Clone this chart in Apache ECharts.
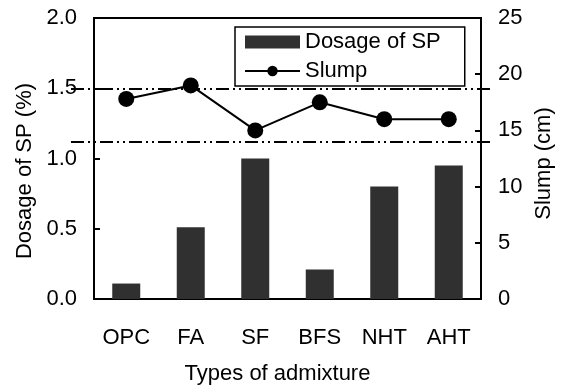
<!DOCTYPE html>
<html>
<head>
<meta charset="utf-8">
<script src="https://cdn.jsdelivr.net/npm/echarts@6/dist/echarts.min.js"></script>
<style>
  html, body { margin: 0; padding: 0; background: #fff; }
  #chart { width: 561px; height: 385px; }
</style>
</head>
<body>
<div id="chart"></div>
<script>
// Admixture types and measured values
var categories = ['OPC', 'FA', 'SF', 'BFS', 'NHT', 'AHT'];
var dosageSP = [0.11, 0.51, 1.0, 0.21, 0.8, 0.95];      // %
var slump = [17.8, 19.0, 15.0, 17.5, 16.0, 16.0];       // cm
var slumpLimits = [18.7, 14.0];                          // cm, target range
var leftTicks = { min: 0, max: 2.0, interval: 0.5 };
var rightTicks = { min: 0, max: 25, interval: 5 };

var FONT = 'Liberation Sans, Arial, sans-serif';
var FS = 22;

var chart = echarts.init(document.getElementById('chart'), null, { renderer: 'canvas' });

// Limit lines run a bit past both sides of the plot box, so they live on a wider hidden grid
var limitLines = slumpLimits.map(function (v) {
  return [{ coord: [0, v] }, { coord: [1, v] }];
});

chart.setOption({
  animation: false,
  backgroundColor: '#ffffff',
  textStyle: { fontFamily: FONT, color: '#000' },
  legend: {
    orient: 'vertical',
    left: 235,
    top: 27,
    padding: [4, 24, 4, 9],
    itemGap: 7,
    itemWidth: 55,
    itemHeight: 13,
    borderColor: '#000',
    borderWidth: 1.5,
    backgroundColor: '#fff',
    textStyle: { fontFamily: FONT, fontSize: FS, color: '#000' },
    data: [
      { name: 'Dosage of SP', icon: 'rect' },
      { name: 'Slump' }
    ]
  },
  grid: [
    { left: 94, right: 80, top: 18, bottom: 86, outerBoundsMode: 'none', containLabel: false,
      show: true, borderColor: '#000', borderWidth: 2, backgroundColor: 'transparent' },
    { left: 71, right: 67, top: 18, bottom: 86, outerBoundsMode: 'none', containLabel: false, show: false }
  ],
  xAxis: [
    {
      type: 'category',
      gridIndex: 0,
      data: categories,
      boundaryGap: true,
      axisLine: { lineStyle: { color: '#000', width: 2 } },
      axisTick: { show: false },
      axisLabel: { margin: 28, fontSize: FS, color: '#000', fontFamily: FONT },
      name: 'Types of admixture',
      nameLocation: 'middle',
      nameGap: 64,
      nameTextStyle: { fontSize: FS, color: '#000', fontFamily: FONT, padding: [0, 20, 0, 0] }
    },
    { type: 'value', gridIndex: 1, min: 0, max: 1, show: false }
  ],
  yAxis: [
    {
      type: 'value',
      gridIndex: 0,
      position: 'left',
      min: leftTicks.min, max: leftTicks.max, interval: leftTicks.interval,
      splitLine: { show: false },
      axisLine: { show: true, lineStyle: { color: '#000', width: 2 } },
      axisTick: { show: true, inside: true, length: 6, lineStyle: { color: '#000', width: 2 } },
      axisLabel: { margin: 17, fontSize: FS, color: '#000', fontFamily: FONT,
        formatter: function (v) { return v.toFixed(1); } },
      name: 'Dosage of SP (%)',
      nameLocation: 'middle',
      nameGap: 58,
      nameTextStyle: { fontSize: FS, color: '#000', fontFamily: FONT, padding: [0, 25, 0, 0] }
    },
    {
      type: 'value',
      gridIndex: 0,
      position: 'right',
      min: rightTicks.min, max: rightTicks.max, interval: rightTicks.interval,
      splitLine: { show: false },
      axisLine: { show: true, lineStyle: { color: '#000', width: 2 } },
      axisTick: { show: true, inside: true, length: 6, lineStyle: { color: '#000', width: 2 } },
      axisLabel: { margin: 17, fontSize: FS, color: '#000', fontFamily: FONT },
      name: 'Slump (cm)',
      nameLocation: 'middle',
      nameGap: 51,
      nameTextStyle: { fontSize: FS, color: '#000', fontFamily: FONT, padding: [0, 10, 0, 0] }
    },
    { type: 'value', gridIndex: 1, min: rightTicks.min, max: rightTicks.max, show: false }
  ],
  series: [
    {
      name: 'Dosage of SP',
      type: 'bar',
      xAxisIndex: 0,
      yAxisIndex: 0,
      data: dosageSP,
      barWidth: 28,
      itemStyle: { color: '#303030' },
      z: 2
    },
    {
      name: 'Slump',
      type: 'line',
      xAxisIndex: 0,
      yAxisIndex: 1,
      data: slump,
      symbol: 'circle',
      symbolSize: 16,
      lineStyle: { color: '#000', width: 2 },
      itemStyle: { color: '#000' },
      z: 4
    },
    {
      name: 'limits',
      type: 'line',
      xAxisIndex: 1,
      yAxisIndex: 2,
      data: [],
      silent: true,
      markLine: {
        silent: true,
        symbol: ['none', 'none'],
        label: { show: false },
        lineStyle: { color: '#000', width: 2, type: [13, 4, 2, 4, 2, 4] },
        data: limitLines
      },
      z: 3
    }
  ]
});
</script>
</body>
</html>
